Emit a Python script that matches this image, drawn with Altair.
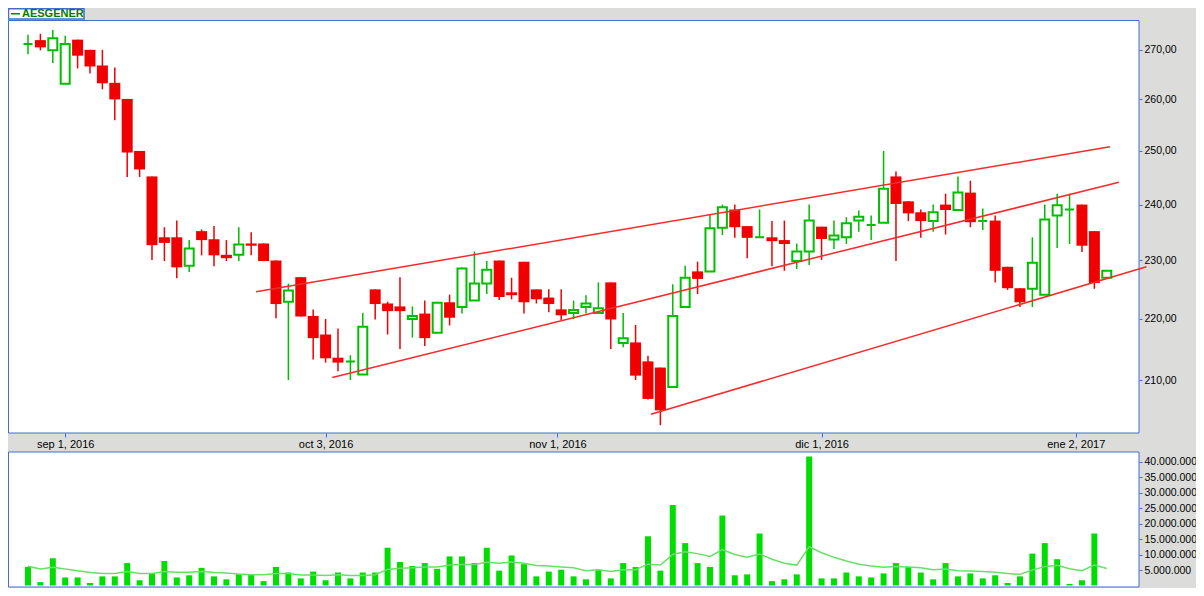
import altair as alt
import pandas as pd

# ---- daily candles (prices), Aug 29 2016 .. Jan 2017 ----
opens = [271.2, 272.0, 269.9, 263.1, 272.1, 270.0, 266.8, 263.3, 260.1, 250.0,
         245.2, 234.1, 234.1, 229.1, 235.2, 233.75, 231.0, 231.0, 233.0, 233.0,
         230.0, 222.9, 227.1, 220.5, 217.4, 213.6, 213.0, 210.9, 225.0, 222.6,
         222.1, 220.0, 220.9, 217.7, 222.8, 222.0, 223.1, 226.0, 230.0, 224.5,
         229.8, 225.0, 223.6, 221.6, 221.0, 222.0, 221.0, 226.2, 216.0, 216.1,
         213.0, 212.0, 208.9, 222.0, 228.1, 228.1, 235.8, 239.1, 236.1, 234.1,
         234.1, 233.6, 229.9, 231.6, 236.0, 233.7, 234.1, 237.1, 236.3, 236.7,
         245.2, 240.6, 238.6, 237.0, 240.0, 239.0, 242.2, 237.0, 237.1, 228.9,
         225.2, 225.1, 224.1, 238.0, 239.1, 240.0, 235.2, 227.0]
highs = [273.1, 273.3, 274.1, 272.9, 272.1, 270.0, 270.0, 266.4, 260.1, 250.0,
         245.2, 235.9, 237.1, 233.6, 235.5, 236.1, 233.6, 235.9, 235.0, 233.0,
         230.0, 226.0, 227.1, 221.6, 220.0, 218.4, 214.0, 221.0, 225.0, 222.9,
         227.1, 222.1, 223.1, 222.9, 224.1, 228.8, 231.6, 229.9, 230.0, 227.0,
         229.8, 225.0, 225.0, 225.0, 223.1, 224.0, 226.2, 226.2, 221.0, 219.0,
         213.9, 212.0, 225.9, 229.1, 229.8, 238.1, 240.0, 240.0, 236.1, 239.1,
         237.0, 237.1, 233.0, 240.0, 236.0, 237.1, 237.7, 238.9, 238.0, 250.0,
         246.1, 240.6, 239.1, 240.0, 242.0, 245.2, 244.4, 239.3, 238.0, 228.9,
         225.2, 234.1, 240.0, 242.0, 242.0, 240.0, 235.2, 228.2]
lows = [269.1, 269.9, 267.3, 263.1, 266.2, 265.2, 262.0, 255.9, 245.1, 245.1,
        230.1, 229.9, 226.9, 228.0, 230.9, 229.0, 229.9, 229.9, 230.9, 229.9,
        220.1, 210.0, 220.4, 213.3, 212.8, 211.4, 210.0, 210.9, 219.9, 217.4,
        215.0, 216.9, 215.5, 217.7, 218.9, 220.9, 223.1, 224.2, 223.2, 223.3,
        220.9, 222.6, 221.1, 219.8, 220.0, 220.9, 221.0, 215.0, 215.3, 210.0,
        206.9, 202.9, 208.9, 222.0, 224.2, 228.1, 234.5, 234.0, 230.4, 234.1,
        229.0, 228.2, 228.5, 229.2, 230.1, 232.0, 232.9, 235.1, 233.6, 236.7,
        229.9, 237.0, 234.0, 235.1, 234.6, 239.0, 235.9, 235.4, 226.2, 224.9,
        222.0, 222.0, 224.1, 232.2, 232.9, 231.5, 225.1, 227.0]
closes = [271.2, 270.5, 272.4, 271.2, 268.8, 266.6, 263.2, 260.0, 249.7, 246.5,
          232.7, 233.1, 228.8, 232.1, 233.6, 230.9, 230.4, 232.8, 232.6, 229.9,
          222.5, 224.8, 220.4, 216.8, 213.5, 212.8, 213.0, 218.7, 222.5, 221.3,
          221.3, 220.5, 216.8, 222.7, 220.2, 228.6, 226.0, 228.4, 223.7, 224.0,
          222.8, 223.3, 222.5, 220.6, 221.5, 222.6, 221.8, 219.9, 216.8, 210.7,
          207.0, 205.2, 220.5, 227.0, 226.8, 235.7, 239.5, 235.9, 234.0, 234.1,
          233.4, 232.9, 231.6, 237.1, 233.8, 234.4, 236.6, 237.8, 236.3, 242.9,
          240.1, 238.4, 237.0, 238.6, 239.0, 242.2, 236.8, 237.0, 228.2, 225.2,
          222.8, 229.6, 237.3, 239.9, 239.1, 232.6, 226.1, 228.2]

# volume (millions) and its moving-average line (millions)
volume_m = [6.0, 1.1, 8.8, 2.6, 2.6, 0.8, 2.95, 2.95, 7.25, 1.7,
            3.9, 7.9, 2.6, 3.3, 5.7, 2.95, 2.0, 3.6, 3.6, 1.4,
            6.0, 4.2, 2.3, 4.5, 1.7, 4.2, 2.3, 4.2, 4.2, 12.2,
            7.6, 6.3, 7.25, 5.4, 9.4, 9.4, 7.25, 12.2, 4.8, 9.7,
            6.9, 2.95, 4.5, 5.1, 2.95, 2.0, 5.0, 2.3, 7.25, 6.0,
            15.9, 4.8, 26.0, 13.7, 7.25, 6.0, 22.6, 3.3, 3.6, 16.8,
            1.4, 2.0, 3.6, 41.7, 2.3, 2.3, 4.2, 2.95, 2.6, 3.9,
            7.25, 6.0, 4.2, 2.0, 7.25, 2.95, 3.9, 2.3, 3.3, 0.8,
            2.95, 10.3, 13.7, 8.5, 0.5, 1.7, 16.8, 0.0]
vol_avg_m = [6.2, 5.3, 5.9, 5.3, 4.8, 4.2, 3.9, 3.9, 4.5, 3.9,
             3.9, 4.5, 4.3, 4.3, 4.5, 4.2, 4.0, 3.7, 3.5, 3.5,
             3.9, 3.9, 3.4, 3.4, 3.2, 3.5, 3.2, 3.2, 3.5, 5.2,
             5.6, 5.7, 6.0, 6.0, 6.6, 6.8, 6.8, 7.5, 7.2, 7.6,
             7.2, 6.5, 6.3, 6.0, 5.7, 4.8, 5.1, 4.5, 5.1, 5.1,
             6.9, 6.6, 10.0, 10.9, 10.3, 9.4, 11.6, 10.0, 9.1, 10.2,
             8.5, 7.2, 6.6, 12.5, 10.6, 9.1, 7.9, 6.9, 6.3, 5.9,
             6.1, 6.0, 5.7, 5.1, 5.3, 4.8, 4.7, 4.5, 4.3, 3.9,
             3.6, 5.0, 6.1, 6.5, 5.4, 4.8, 6.6, 5.5]

# trend lines (candle index, price)
trend_x0 = [18.39, 24.54, 50.24]
trend_p0 = [224.6, 210.4, 204.6]
trend_x1 = [87.26, 87.98, 90.2]
trend_p1 = [250.8, 244.1, 228.9]

# axis labels
date_ticks = [3, 24, 42.7, 64, 84.5]
date_labels = ["sep 1, 2016", "oct 3, 2016", "nov 1, 2016", "dic 1, 2016", "ene 2, 2017"]
price_ticks = [210, 220, 230, 240, 250, 260, 270]
volume_ticks = [5e6, 10e6, 15e6, 20e6, 25e6, 30e6, 35e6, 40e6]
ticker = "AESGENER"

# ---- styling ----
BLUE = "#3F6FD1"
RED = "#F00000"
GREEN = "#00BE00"
VOLG = "#00DD00"
MAG = "#66E066"
TRED = "#F62A2A"
BG = "#DCDDDA"
FONT = "Liberation Sans"

W = 1131        # plot group width
H = 567.5       # plot group height (price + gap + volume)
PH = 413        # price panel height
VT = 432        # volume panel top

df = pd.DataFrame({
    "i": list(range(len(opens))),
    "o": opens, "h": highs, "l": lows, "c": closes,
    "v": [v * 1e6 for v in volume_m],
    "ma": [m * 1e6 for m in vol_avg_m],
})
df["dir"] = ["up" if c >= o else "down" for o, c in zip(opens, closes)]
tl = pd.DataFrame({"x0": trend_x0, "p0": trend_p0, "x1": trend_x1, "p1": trend_p1})

lab_expr = " : ".join(
    f"datum.value == {v} ? '{t}'" for v, t in zip(date_ticks, date_labels)
) + " : ''"

xs = alt.Scale(domain=[-1.613, 89.6], nice=False, zero=False, padding=0)
xaxis = alt.Axis(orient="bottom", offset=-(H - PH), values=date_ticks, labelExpr=lab_expr,
                 domain=False, grid=False, tickColor=BLUE, tickSize=4, labelPadding=1,
                 labelFont=FONT, labelFontSize=11, labelColor="black", labelOverlap=False,
                 labelFlush=False, title=None)
X = alt.X("i:Q", scale=xs, axis=xaxis)

ys = alt.Scale(type="log", domain=[201.7, 276.2], range=[PH, 0], nice=False)
yaxis = alt.Axis(orient="right", values=price_ticks,
                 labelExpr="replace(format(datum.value, '.2f'), '.', ',')",
                 domain=False, grid=False, tickColor=BLUE, tickSize=3, labelPadding=2,
                 labelFont=FONT, labelFontSize=10.5, labelColor="black", labelOverlap=False,
                 title=None)

vs = alt.Scale(domain=[-0.646e6, 43.13e6], range=[H, VT], nice=False, zero=False)
vaxis = alt.Axis(orient="right", values=volume_ticks,
                 labelExpr="replace(format(datum.value, ',.0f'), regexp(',', 'g'), '.')",
                 domain=False, grid=False, tickColor=BLUE, tickSize=3, labelPadding=2,
                 labelFont=FONT, labelFontSize=10.5, labelColor="black", labelOverlap=False,
                 title=None)

one = alt.Data(values=[{"a": 1}])

frame_p = alt.Chart(one).mark_rect(fill="white", stroke=BLUE, strokeWidth=1).encode(
    x=alt.value(0.5), x2=alt.value(W), y=alt.value(0.5), y2=alt.value(PH))
frame_v = alt.Chart(one).mark_rect(fill="white", stroke=BLUE, strokeWidth=1).encode(
    x=alt.value(0.5), x2=alt.value(W), y=alt.value(VT), y2=alt.value(H - 0.5))

base = alt.Chart(df)
wick = base.mark_rule(strokeWidth=1.5).encode(
    x=X,
    y=alt.Y("l:Q", scale=ys, axis=yaxis),
    y2="h:Q",
    color=alt.Color("dir:N", scale=alt.Scale(domain=["up", "down"], range=[GREEN, RED]), legend=None),
)
body_dn = base.transform_filter("datum.c < datum.o").mark_bar(size=11, color=RED).encode(
    x=X, y=alt.Y("o:Q", scale=ys, axis=yaxis), y2="c:Q")
body_up = base.transform_filter("datum.c >= datum.o").mark_bar(
    size=9, fill="white", stroke=GREEN, strokeWidth=2).encode(
    x=X, y=alt.Y("o:Q", scale=ys, axis=yaxis), y2="c:Q")
trend = alt.Chart(tl).mark_rule(color=TRED, strokeWidth=1.5).encode(
    x=alt.X("x0:Q", scale=xs, axis=xaxis), x2="x1:Q",
    y=alt.Y("p0:Q", scale=ys, axis=yaxis), y2="p1:Q")
price = alt.layer(wick, body_dn, body_up, trend)

vbars = base.mark_bar(size=6, color=VOLG).encode(
    x=X, y=alt.Y("v:Q", scale=vs, axis=vaxis), y2=alt.datum(0))
vline = base.mark_line(color=MAG, strokeWidth=1.5).encode(
    x=X, y=alt.Y("ma:Q", scale=vs, axis=vaxis))
vol = alt.layer(vbars, vline)

leg_box = alt.Chart(one).mark_rect(fill="white", stroke=BLUE, strokeWidth=1.5).encode(
    x=alt.value(0.5), x2=alt.value(76), y=alt.value(-11.25), y2=alt.value(-1))
leg_line = alt.Chart(one).mark_rule(color="#008800", strokeWidth=1.5).encode(
    x=alt.value(3), x2=alt.value(12), y=alt.value(-6.25))
leg_text = alt.Chart(one).mark_text(text=ticker, font=FONT, fontSize=11, fontWeight="bold",
                                    color="#008000", align="left", baseline="middle").encode(
    x=alt.value(14), y=alt.value(-5.75))

chart = alt.layer(frame_p, frame_v, price, vol, leg_box, leg_line, leg_text).resolve_scale(
    y="independent"
).properties(
    width=W, height=H,
    autosize=alt.AutoSizeParams(type="none"),
    padding={"left": 0, "top": 12, "right": 57, "bottom": 0},
    background=BG,
).configure_view(stroke=None)

chart.save("out.html", embed_options={"renderer": "svg", "actions": False})
